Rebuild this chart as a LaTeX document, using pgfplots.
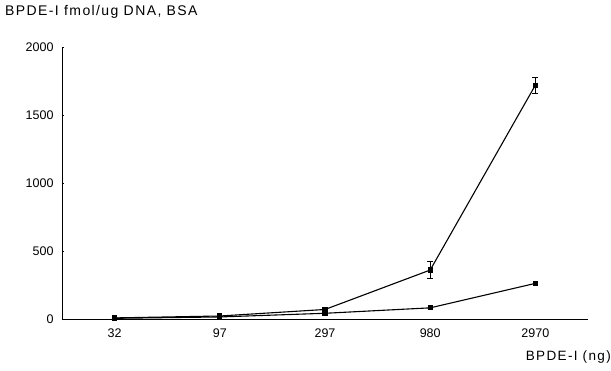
\documentclass[border=0pt]{standalone}
\usepackage{fontspec}
\setmainfont{Liberation Sans}
\newfontfamily\widefont[LetterSpace=10]{Liberation Sans}
\usepackage{pgfplots}
\pgfplotsset{compat=1.18}
\begin{document}
\begin{tikzpicture}
\useasboundingbox (-62pt,-52pt) rectangle (549pt,319pt);
\begin{axis}[
  at={(0pt,0pt)}, anchor=south west,
  scale only axis, width=526pt, height=272pt,
  xmin=-0.5, xmax=4.5, ymin=0, ymax=2000,
  axis x line*=bottom, axis y line*=left,
  axis line style={-, line width=0.8pt},
  xtick={0,1,2,3,4}, xticklabels={32,97,297,980,2970},
  major x tick style={draw=none},
  extra x ticks={-0.5,0.5,1.5,2.5,3.5,4.5},
  extra x tick labels={},
  extra x tick style={major tick length=4pt, tick align=inside, tick style={black, line width=0.6pt}},
  ytick={0,500,1000,1500,2000},
  major tick length=2.5pt,
  y tick style={black, line width=0.6pt},
  tick align=inside,
  ticklabel style={font=\fontsize{12.5}{14}\selectfont},
  xticklabel style={yshift=-6pt},
  yticklabel style={xshift=-5pt},
  /pgf/number format/assume math mode=true,
  /pgf/number format/1000 sep={},
  clip=false,
]
\addplot[black, line width=1.1pt, mark=square*, mark size=2pt,
  error bars/.cd, y dir=both, y explicit, error mark options={rotate=90, mark size=3pt, line width=0.8pt}]
  coordinates {
  (0,8) +- (0,0)
  (1,22) +- (0,0)
  (2,70) +- (0,0)
  (3,360) +- (0,65)
  (4,1720) +- (0,60)
};
\addplot[black, line width=1.1pt, mark=square*, mark size=2pt]
  coordinates {
  (0,5) (1,15) (2,42) (3,82) (4,262)
};
\end{axis}
\node[anchor=west, inner sep=0pt] at (-57pt,307pt) {\widefont\fontsize{14}{16}\selectfont BPDE-I fmol/ug DNA, BSA};
\node[anchor=east, inner sep=0pt] at (549pt,-38pt) {\widefont\fontsize{13.5}{15}\selectfont BPDE-I (ng)};
\end{tikzpicture}
\end{document}
